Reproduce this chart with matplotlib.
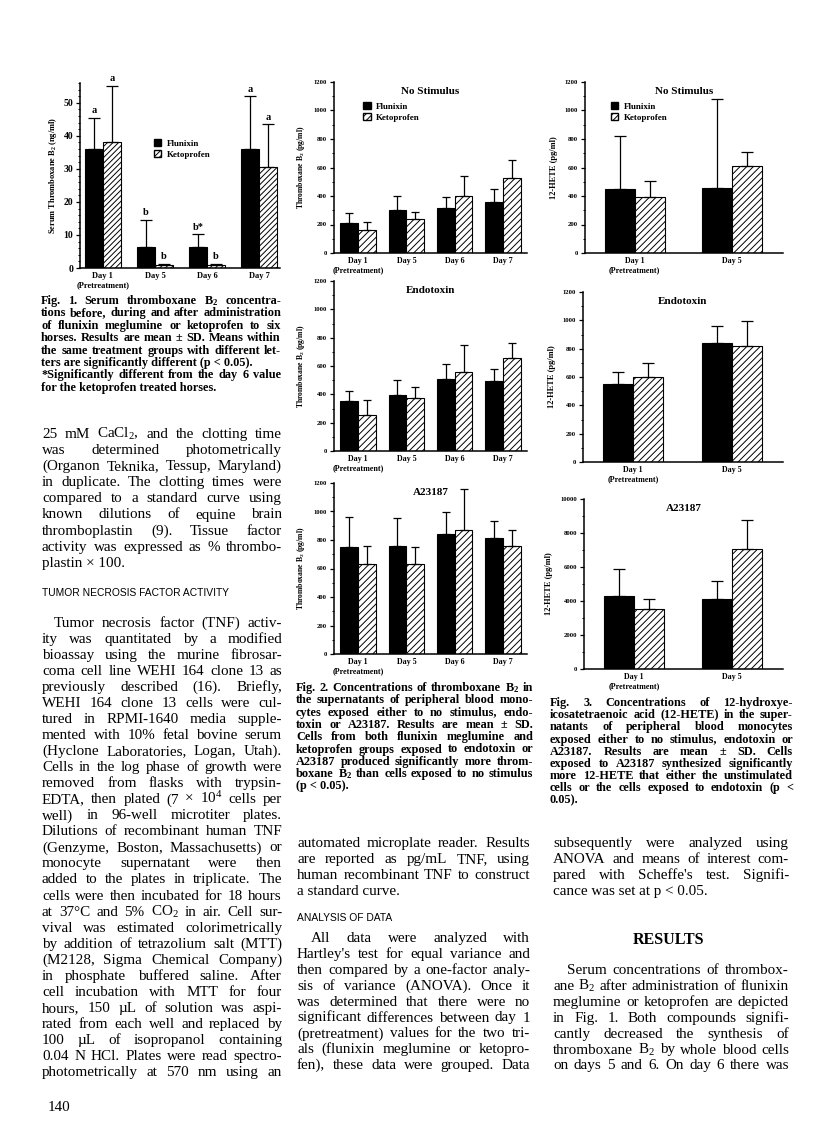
import matplotlib
matplotlib.use('Agg')
import matplotlib.pyplot as plt
from matplotlib.patches import Patch
import numpy as np

W, H = 816, 1125

# ---- Fig. 1 data (serum thromboxane B2, ng/ml)
fig1_days = ['Day 1\n(Pretreatment)', 'Day 5', 'Day 6', 'Day 7']
fig1_flu = [36, 6.5, 6.3, 36]
fig1_flu_sd = [9.5, 8, 3.9, 16]
fig1_keto = [38, 0.8, 0.8, 30.5]
fig1_keto_sd = [17.2, 0.5, 0.5, 13]
fig1_flu_letters = ['a', 'b', 'b*', 'a']
fig1_keto_letters = ['a', 'b', 'b', 'a']

# ---- Fig. 2 data (thromboxane B2, pg/ml)
fig2_days = ['Day 1\n(Pretreatment)', 'Day 5', 'Day 6', 'Day 7']
ns_flu = [210, 300, 315, 360]
ns_flu_sd = [70, 102, 77, 87]
ns_keto = [164, 238, 402, 525]
ns_keto_sd = [54, 47, 140, 125]
endo_flu = [353, 395, 508, 494]
endo_flu_sd = [71, 104, 108, 87]
endo_keto = [256, 372, 558, 656]
endo_keto_sd = [102, 80, 190, 106]
a23_flu = [748, 755, 845, 816]
a23_flu_sd = [211, 197, 152, 117]
a23_keto = [634, 629, 873, 755]
a23_keto_sd = [126, 122, 285, 113]

# ---- Fig. 3 data (12-HETE, pg/ml)
fig3_days = ['Day 1\n(Pretreatment)', 'Day 5']
hete_ns_flu = [451, 458]
hete_ns_flu_sd = [368, 625]
hete_ns_keto = [393, 611]
hete_ns_keto_sd = [110, 98]
hete_endo_flu = [548, 842]
hete_endo_flu_sd = [87, 116]
hete_endo_keto = [600, 816]
hete_endo_keto_sd = [99, 179]
hete_a23_flu = [4320, 4100]
hete_a23_flu_sd = [1590, 1090]
hete_a23_keto = [3520, 7050]
hete_a23_keto_sd = [610, 1730]

plt.rcParams['font.family'] = ['Liberation Serif', 'DejaVu Serif']
plt.rcParams['mathtext.default'] = 'regular'
plt.rcParams['hatch.linewidth'] = 0.7

fig = plt.figure(figsize=(W / 100, H / 100), dpi=100)
renderer = fig.canvas.get_renderer()


def make_axes(x0, x1, ytop, ybot):
    return fig.add_axes([x0 / W, 1 - ybot / H, (x1 - x0) / W, (ybot - ytop) / H])


def bar_panel(ax, flu, flu_sd, keto, keto_sd, labels, width, hatch, ymax, major, minor,
              xlim, title=None, tick_fs=4.8, label_fs=5.8, cap=3):
    x = np.arange(len(flu))
    ax.bar(x - width / 2, flu, width, color='black', edgecolor='black', lw=0.8)
    ax.bar(x + width / 2, keto, width, color='white', edgecolor='black', lw=0.8, hatch=hatch)
    ax.errorbar(x - width / 2, flu, yerr=[np.zeros(len(flu)), flu_sd], fmt='none',
                ecolor='black', elinewidth=0.9, capsize=cap, capthick=0.9)
    ax.errorbar(x + width / 2, keto, yerr=[np.zeros(len(keto)), keto_sd], fmt='none',
                ecolor='black', elinewidth=0.9, capsize=cap, capthick=0.9)
    ax.set_xlim(*xlim)
    ax.set_ylim(0, ymax)
    ax.set_yticks(np.arange(0, ymax + 1, major))
    ax.set_yticks(np.arange(0, ymax + 1, minor), minor=True)
    ax.set_xticks(x)
    ax.set_xticklabels(labels, fontsize=label_fs, fontweight='bold', linespacing=1.1)
    ax.tick_params(axis='x', length=0, pad=3)
    ax.tick_params(axis='y', which='major', length=3, width=0.9, labelsize=tick_fs, pad=2)
    ax.tick_params(axis='y', which='minor', length=1.5, width=0.7)
    for t in ax.get_yticklabels():
        t.set_fontweight('bold')
    for s in ['top', 'right']:
        ax.spines[s].set_visible(False)
    for s in ['left', 'bottom']:
        ax.spines[s].set_linewidth(1.1)
    ax.patch.set_alpha(0)
    if title:
        ax.text(0.5, 0.97, title, transform=ax.transAxes, ha='center', va='top',
                fontsize=8, fontweight='bold')


def add_legend(ax, x, y, fs, hatch):
    handles = [Patch(facecolor='black', edgecolor='black', label='Flunixin'),
               Patch(facecolor='white', edgecolor='black', hatch=hatch, label='Ketoprofen')]
    leg = ax.legend(handles=handles, loc='upper left', bbox_to_anchor=(x, y), frameon=False,
                    handlelength=0.8, handleheight=0.8, handletextpad=0.6, labelspacing=0.25,
                    prop={'size': fs, 'weight': 'bold'})
    return leg


# ---------------- Fig. 1
ax1 = make_axes(80, 280, 83, 268)
bar_panel(ax1, fig1_flu, fig1_flu_sd, fig1_keto, fig1_keto_sd, fig1_days, 0.346, '//////',
          56, 10, 2, (-0.44, 3.40), tick_fs=7, label_fs=6, cap=4.5)
ax1.set_ylim(0, 56)
ax1.set_yticks(np.arange(0, 51, 10))
ax1.set_ylabel('Serum Thromboxane B$_2$ (ng/ml)', fontsize=6, fontweight='bold', labelpad=3)
add_legend(ax1, 0.33, 0.74, 6.5, '//////')
for i in range(4):
    ax1.text(i - 0.173, fig1_flu[i] + fig1_flu_sd[i] + 0.8, fig1_flu_letters[i], ha='center',
             va='bottom', fontsize=7.5, fontweight='bold')
    ax1.text(i + 0.173, fig1_keto[i] + fig1_keto_sd[i] + 0.8, fig1_keto_letters[i], ha='center',
             va='bottom', fontsize=7.5, fontweight='bold')

# ---------------- Fig. 2
xl2 = (-0.5, 3.5)
ax2a = make_axes(334, 527, 82, 253)
bar_panel(ax2a, ns_flu, ns_flu_sd, ns_keto, ns_keto_sd, fig2_days, 0.37, '/////',
          1200, 200, 100, xl2, title='No Stimulus')
add_legend(ax2a, 0.11, 0.93, 6.5, '/////')
ax2b = make_axes(334, 527, 281, 451)
bar_panel(ax2b, endo_flu, endo_flu_sd, endo_keto, endo_keto_sd, fig2_days, 0.37, '/////',
          1200, 200, 100, xl2, title='Endotoxin')
ax2c = make_axes(334, 527, 483, 654)
bar_panel(ax2c, a23_flu, a23_flu_sd, a23_keto, a23_keto_sd, fig2_days, 0.37, '/////',
          1200, 200, 100, xl2, title='A23187')
for ax in (ax2a, ax2b, ax2c):
    ax.set_ylabel('Thromboxane B$_2$ (pg/ml)', fontsize=5.5, fontweight='bold', labelpad=5)

# ---------------- Fig. 3
xl3 = (-0.51, 1.52)
ax3a = make_axes(585, 783, 82, 253)
bar_panel(ax3a, hete_ns_flu, hete_ns_flu_sd, hete_ns_keto, hete_ns_keto_sd, fig3_days, 0.306,
          '/////', 1200, 200, 100, xl3, title='No Stimulus', cap=4.5)
add_legend(ax3a, 0.09, 0.93, 6.5, '/////')
ax3b = make_axes(583, 783, 292, 462)
bar_panel(ax3b, hete_endo_flu, hete_endo_flu_sd, hete_endo_keto, hete_endo_keto_sd, fig3_days,
          0.306, '/////', 1200, 200, 100, xl3, title='Endotoxin', cap=4.5)
ax3c = make_axes(584, 783, 499, 669)
bar_panel(ax3c, hete_a23_flu, hete_a23_flu_sd, hete_a23_keto, hete_a23_keto_sd, fig3_days,
          0.306, '/////', 10000, 2000, 1000, xl3, title='A23187', cap=4.5)
for ax in (ax3a, ax3b, ax3c):
    ax.set_ylabel('12-HETE (pg/ml)', fontsize=6, fontweight='bold', labelpad=5)


# ---------------- page text
def natural_width(text, **kw):
    t = fig.text(0, 0, text, **kw)
    w = t.get_window_extent(renderer).width
    t.remove()
    return w


def put_line(text, x0, x1, y, justify=True, **kw):
    words = text.split(' ')
    yf = 1 - y / H
    if not justify or len(words) == 1:
        fig.text(x0 / W, yf, text, va='baseline', ha='left', **kw)
        return
    arts = [fig.text(0, yf, w, va='baseline', ha='left', **kw) for w in words]
    widths = [a.get_window_extent(renderer).width for a in arts]
    gap = (x1 - x0 - sum(widths)) / (len(words) - 1)
    x = x0
    for a, w in zip(arts, widths):
        a.set_position((x / W, yf))
        x += w + gap


def fit_size(blocks, base, **kw):
    # largest font size for which every justified line still fits its column
    best = 100.0
    for lines, x0, x1, indent, last_left in blocks:
        for i, ln in enumerate(lines):
            if last_left and i == len(lines) - 1:
                continue
            avail = x1 - x0 - (indent if i == 0 else 0)
            best = min(best, base * avail / natural_width(ln, fontsize=base, **kw))
    return best * 0.99


def put_block(lines, x0, x1, y0, step, indent=0, last_left=True, **kw):
    for i, ln in enumerate(lines):
        xs = x0 + (indent if i == 0 else 0)
        last = last_left and i == len(lines) - 1
        put_line(ln, xs, x1, y0 + i * step, justify=not last, **kw)


cap1 = ['Fig. 1. Serum thromboxane B$_2$ concentra-',
        'tions before, during and after administration',
        'of flunixin meglumine or ketoprofen to six',
        'horses. Results are mean ± SD. Means within',
        'the same treatment groups with different let-',
        'ters are significantly different (p < 0.05).']
cap1b = ['*Significantly different from the day 6 value',
         'for the ketoprofen treated horses.']
cap2 = ['Fig. 2. Concentrations of thromboxane B$_2$ in',
        'the supernatants of peripheral blood mono-',
        'cytes exposed either to no stimulus, endo-',
        'toxin or A23187. Results are mean ± SD.',
        'Cells from both flunixin meglumine and',
        'ketoprofen groups exposed to endotoxin or',
        'A23187 produced significantly more throm-',
        'boxane B$_2$ than cells exposed to no stimulus',
        '(p < 0.05).']
cap3 = ['Fig. 3. Concentrations of 12-hydroxye-',
        'icosatetraenoic acid (12-HETE) in the super-',
        'natants of peripheral blood monocytes',
        'exposed either to no stimulus, endotoxin or',
        'A23187. Results are mean ± SD. Cells',
        'exposed to A23187 synthesized significantly',
        'more 12-HETE that either the unstimulated',
        'cells or the cells exposed to endotoxin (p <',
        '0.05).']

col1a = ['25 mM CaCl$_2$, and the clotting time',
         'was determined photometrically',
         '(Organon Teknika, Tessup, Maryland)',
         'in duplicate. The clotting times were',
         'compared to a standard curve using',
         'known dilutions of equine brain',
         'thromboplastin (9). Tissue factor',
         'activity was expressed as % thrombo-',
         'plastin × 100.']
col1b = ['Tumor necrosis factor (TNF) activ-',
         'ity was quantitated by a modified',
         'bioassay using the murine fibrosar-',
         'coma cell line WEHI 164 clone 13 as',
         'previously described (16). Briefly,',
         'WEHI 164 clone 13 cells were cul-',
         'tured in RPMI-1640 media supple-',
         'mented with 10% fetal bovine serum',
         '(Hyclone Laboratories, Logan, Utah).',
         'Cells in the log phase of growth were',
         'removed from flasks with trypsin-',
         'EDTA, then plated (7 × 10$^4$ cells per',
         'well) in 96-well microtiter plates.',
         'Dilutions of recombinant human TNF',
         '(Genzyme, Boston, Massachusetts) or',
         'monocyte supernatant were then',
         'added to the plates in triplicate. The',
         'cells were then incubated for 18 hours',
         'at 37°C and 5% CO$_2$ in air. Cell sur-',
         'vival was estimated colorimetrically',
         'by addition of tetrazolium salt (MTT)',
         '(M2128, Sigma Chemical Company)',
         'in phosphate buffered saline. After',
         'cell incubation with MTT for four',
         'hours, 150 µL of solution was aspi-',
         'rated from each well and replaced by',
         '100 µL of isopropanol containing',
         '0.04 N HCl. Plates were read spectro-',
         'photometrically at 570 nm using an']
col2a = ['automated microplate reader. Results',
         'are reported as pg/mL TNF, using',
         'human recombinant TNF to construct',
         'a standard curve.']
col2b = ["All data were analyzed with",
         "Hartley's test for equal variance and",
         "then compared by a one-factor analy-",
         "sis of variance (ANOVA). Once it",
         "was determined that there were no",
         "significant differences between day 1",
         "(pretreatment) values for the two tri-",
         "als (flunixin meglumine or ketopro-",
         "fen), these data were grouped. Data"]
col3a = ["subsequently were analyzed using",
         "ANOVA and means of interest com-",
         "pared with Scheffe's test. Signifi-",
         "cance was set at p < 0.05."]
col3b = ["Serum concentrations of thrombox-",
         "ane B$_2$ after administration of flunixin",
         "meglumine or ketoprofen are depicted",
         "in Fig. 1. Both compounds signifi-",
         "cantly decreased the synthesis of",
         "thromboxane B$_2$ by whole blood cells",
         "on days 5 and 6. On day 6 there was"]

cap_fs = fit_size([(cap1, 41, 281, 0, True), (cap1b, 41, 281, 0, True),
                   (cap2, 296, 533, 0, True), (cap3, 550, 793, 0, True)],
                  8, fontweight='bold')
body_fs = fit_size([(col1a, 42, 282, 0, True), (col1b, 42, 282, 12, False),
                    (col2a, 297, 530, 0, True), (col2b, 297, 530, 14, False),
                    (col3a, 553, 789, 0, True), (col3b, 553, 789, 14, False)], 10)
cap_kw = dict(fontsize=cap_fs, fontweight='bold')
body_kw = dict(fontsize=body_fs)

put_block(cap1, 41, 281, 304, 12.4, **cap_kw)
put_block(cap1b, 41, 281, 304 + 6 * 12.4, 12.4, **cap_kw)
put_block(cap2, 296, 533, 691, 12.3, **cap_kw)
put_block(cap3, 550, 793, 706, 12.2, **cap_kw)

put_block(col1a, 42, 282, 438, 16.1, **body_kw)
fig.text(42 / W, 1 - 596 / H, 'TUMOR NECROSIS FACTOR ACTIVITY', va='baseline',
         fontsize=7.4, family='Liberation Sans')
put_block(col1b, 42, 282, 627, 16.03, indent=12, last_left=False, **body_kw)

put_block(col2a, 297, 530, 847, 16, **body_kw)
fig.text(297 / W, 1 - 921 / H, 'ANALYSIS OF DATA', va='baseline', fontsize=7.4,
         family='Liberation Sans')
put_block(col2b, 297, 530, 942, 15.9, indent=14, last_left=False, **body_kw)

put_block(col3a, 553, 789, 847, 16, **body_kw)
fig.text(668 / W, 1 - 944 / H, 'RESULTS', ha='center', va='baseline', fontsize=11.5,
         fontweight='bold')
put_block(col3b, 553, 789, 974, 15.9, indent=14, last_left=False, **body_kw)

fig.text(48 / W, 1 - 1111 / H, '140', va='baseline', fontsize=body_fs)

fig.savefig('out.png', dpi=100)
